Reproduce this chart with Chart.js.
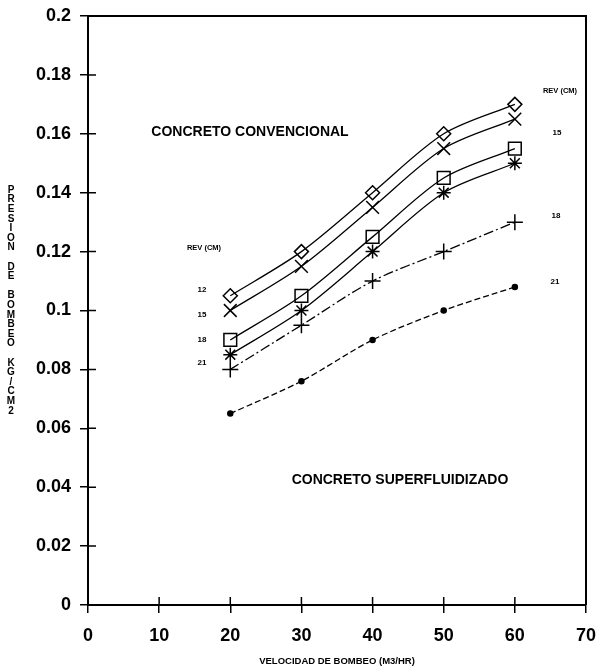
<!DOCTYPE html>
<html><head><meta charset="utf-8">
<script src="https://cdn.jsdelivr.net/npm/chart.js@4.4.1/dist/chart.umd.min.js"></script>
<style>html,body{margin:0;padding:0;background:#fff}#wrap{width:597px;height:667px;position:relative}</style>
</head><body><div id="wrap"><canvas id="c"></canvas></div>
<script>
// ---- data ----
const velocidad = [20, 30, 40, 50, 60];
const serieRombo = [0.105, 0.12, 0.14, 0.16, 0.17];
const serieEquis = [0.10, 0.115, 0.135, 0.155, 0.165];
const serieCuadro = [0.09, 0.105, 0.125, 0.145, 0.155];
const serieEstrella = [0.085, 0.10, 0.12, 0.14, 0.15];
const serieCruz = [0.08, 0.095, 0.11, 0.12, 0.13];
const seriePunto = [0.065, 0.076, 0.09, 0.10, 0.108];
const xTickValues = [0, 10, 20, 30, 40, 50, 60, 70];
const xTickLabels = ['0', '10', '20', '30', '40', '50', '60', '70'];
const yTickValues = [0, 0.02, 0.04, 0.06, 0.08, 0.1, 0.12, 0.14, 0.16, 0.18, 0.2];
const yTickLabels = ['0', '0.02', '0.04', '0.06', '0.08', '0.1', '0.12', '0.14', '0.16', '0.18', '0.2'];
const yTitle = 'PRESION DE BOMBEO KG/CM2';
const xTitle = 'VELOCIDAD DE BOMBEO (M3/HR)';

const pts = s => velocidad.map((x, i) => ({x: x, y: s[i]}));
const base = {borderColor: '#000', backgroundColor: 'rgba(0,0,0,0)', pointBorderColor: '#000',
  pointBackgroundColor: 'rgba(0,0,0,0)', borderWidth: 1.3, pointBorderWidth: 1.5, tension: 0.3, fill: false};

const marco = {
  id: 'marco',
  afterDraw(chart) {
    const ctx = chart.ctx, a = chart.chartArea, xs = chart.scales.x, ys = chart.scales.y;
    ctx.save();
    ctx.strokeStyle = '#000';
    ctx.lineWidth = 2;
    ctx.beginPath();
    ctx.moveTo(a.left, a.top); ctx.lineTo(a.right, a.top); ctx.lineTo(a.right, a.bottom);
    ctx.stroke();
    ctx.lineWidth = 1.5;
    ctx.beginPath();
    xTickValues.forEach(v => { const p = xs.getPixelForValue(v); ctx.moveTo(p, a.bottom); ctx.lineTo(p, a.bottom - 8); });
    yTickValues.forEach(v => { const p = ys.getPixelForValue(v); ctx.moveTo(a.left, p); ctx.lineTo(a.left + 8, p); });
    ctx.stroke();
    ctx.fillStyle = '#000';
    ctx.textAlign = 'center';
    ctx.textBaseline = 'middle';
    const t = (s, x, y, f) => { ctx.font = f; ctx.fillText(s, x, y); };
    const big = 'bold 14px "Liberation Sans", Arial, sans-serif';
    const sm = 'bold 7.5px "Liberation Sans", Arial, sans-serif';
    const num = 'bold 8px "Liberation Sans", Arial, sans-serif';
    t('CONCRETO CONVENCIONAL', 250, 132, big);
    t('CONCRETO SUPERFLUIDIZADO', 400, 480, big);
    t('REV (CM)', 204, 248, sm);
    t('12', 202, 290, num); t('15', 202, 315, num); t('18', 202, 340, num); t('21', 202, 363, num);
    t('REV (CM)', 560, 91, sm);
    t('15', 557, 133, num); t('18', 556, 216, num); t('21', 555, 282, num);
    // stacked vertical y title
    ctx.font = 'bold 10px "Liberation Sans", Arial, sans-serif';
    let y = 190;
    for (const ch of yTitle) {
      if (ch !== ' ') ctx.fillText(ch, 11, y);
      y += 9.6;
    }
    ctx.restore();
  }
};

const tickFont = {family: '"Liberation Sans", Arial, sans-serif', size: 18, weight: 'bold'};

new Chart(document.getElementById('c'), {
  type: 'line',
  data: {
    datasets: [
      Object.assign({}, base, {data: pts(serieRombo), pointStyle: 'rectRot', pointRadius: 7}),
      Object.assign({}, base, {data: pts(serieEquis), pointStyle: 'crossRot', pointRadius: 9}),
      Object.assign({}, base, {data: pts(serieCuadro), pointStyle: 'rect', pointRadius: 9}),
      Object.assign({}, base, {data: pts(serieEstrella), pointStyle: 'star', pointRadius: 7}),
      Object.assign({}, base, {data: pts(serieCruz), pointStyle: 'cross', pointRadius: 8, borderDash: [10, 3, 2, 3]}),
      Object.assign({}, base, {data: pts(seriePunto), pointStyle: 'circle', pointRadius: 2.5,
        pointBackgroundColor: '#000', borderDash: [6, 3]})
    ]
  },
  options: {
    responsive: true, maintainAspectRatio: false, animation: false, devicePixelRatio: 1,
    layout: {padding: {top: 16, right: 11, bottom: 0, left: 0}},
    plugins: {legend: {display: false}, tooltip: {enabled: false}},
    scales: {
      x: {
        type: 'linear', min: 0, max: 70,
        afterBuildTicks: s => { s.ticks = xTickValues.map(v => ({value: v})); },
        afterFit: s => { s.height = 62; s.paddingLeft = 0; s.paddingRight = 0; },
        ticks: {color: '#000', font: tickFont, padding: 12, maxRotation: 0,
          callback: (v, i) => xTickLabels[i]},
        grid: {drawOnChartArea: false, tickLength: 8, color: '#000', lineWidth: 1.5},
        border: {color: '#000', width: 2},
        title: {display: true, text: xTitle, color: '#000', padding: 0,
          font: {family: '"Liberation Sans", Arial, sans-serif', size: 9.5, weight: 'bold'}}
      },
      y: {
        type: 'linear', min: 0, max: 0.2,
        afterBuildTicks: s => { s.ticks = yTickValues.map(v => ({value: v})); },
        afterFit: s => { s.width = 88; s.paddingTop = 0; s.paddingBottom = 0; },
        ticks: {color: '#000', font: tickFont, padding: 9, callback: (v, i) => yTickLabels[i]},
        grid: {drawOnChartArea: false, tickLength: 8, color: '#000', lineWidth: 1.5},
        border: {color: '#000', width: 2}
      }
    }
  },
  plugins: [marco]
});
</script>
</body></html>
